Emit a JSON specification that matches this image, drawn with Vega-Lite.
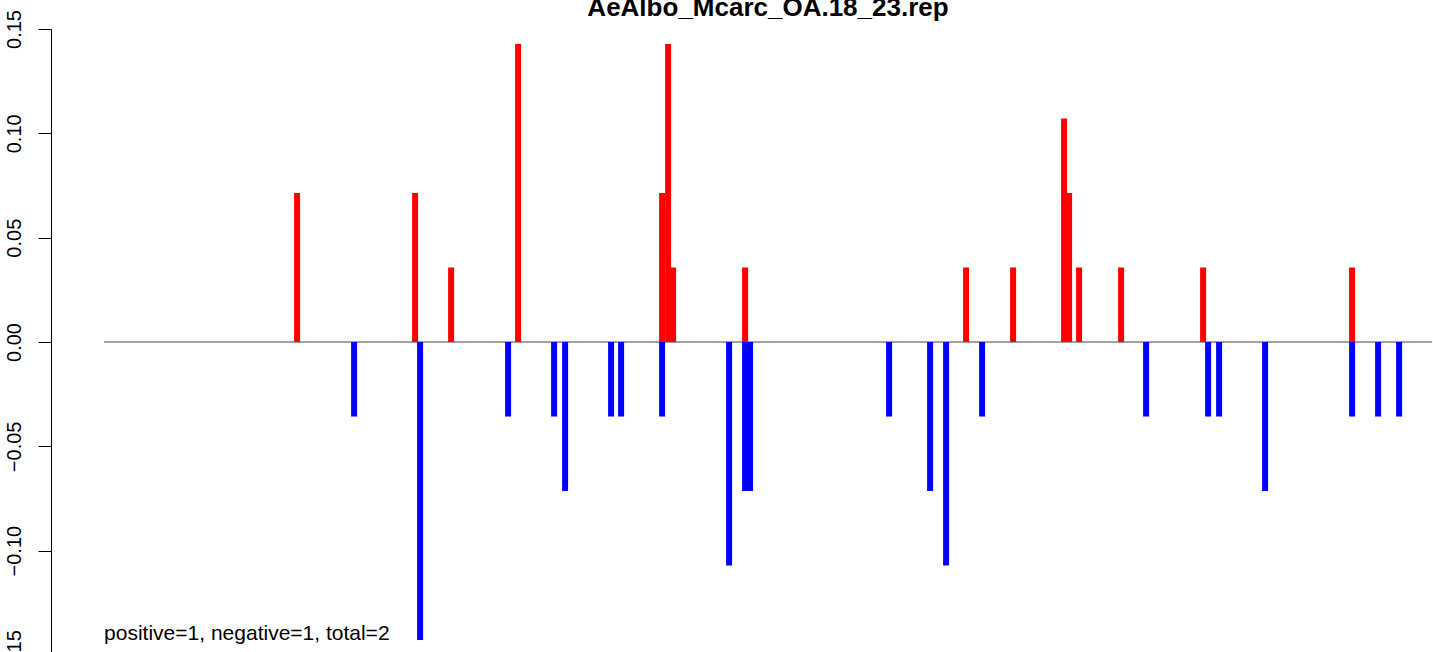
{
  "$schema": "https://vega.github.io/schema/vega-lite/v6.json",
  "width": 1382,
  "height": 626,
  "autosize": {"type": "none"},
  "padding": {"left": 51, "top": 29, "right": 0, "bottom": -3},
  "background": "white",
  "title": {
    "text": "AeAlbo_Mcarc_OA.18_23.rep",
    "font": "Liberation Sans",
    "fontSize": 26,
    "fontWeight": "bold",
    "color": "black",
    "anchor": "middle",
    "frame": "group",
    "dx": 26,
    "dy": 32,
    "baseline": "alphabetic",
    "offset": 0
  },
  "config": {"view": {"stroke": null}, "font": "Liberation Sans"},
  "datasets": {
    "bars": [
      {"pos": 193, "value": 0.071429, "sign": "positive"},
      {"pos": 311, "value": 0.071429, "sign": "positive"},
      {"pos": 347, "value": 0.035714, "sign": "positive"},
      {"pos": 414, "value": 0.142857, "sign": "positive"},
      {"pos": 558, "value": 0.071429, "sign": "positive"},
      {"pos": 564, "value": 0.142857, "sign": "positive"},
      {"pos": 569, "value": 0.035714, "sign": "positive"},
      {"pos": 641, "value": 0.035714, "sign": "positive"},
      {"pos": 862, "value": 0.035714, "sign": "positive"},
      {"pos": 909, "value": 0.035714, "sign": "positive"},
      {"pos": 960, "value": 0.107143, "sign": "positive"},
      {"pos": 965, "value": 0.071429, "sign": "positive"},
      {"pos": 975, "value": 0.035714, "sign": "positive"},
      {"pos": 1017, "value": 0.035714, "sign": "positive"},
      {"pos": 1099, "value": 0.035714, "sign": "positive"},
      {"pos": 1248, "value": 0.035714, "sign": "positive"},
      {"pos": 250, "value": -0.035714, "sign": "negative"},
      {"pos": 316, "value": -0.142857, "sign": "negative"},
      {"pos": 404, "value": -0.035714, "sign": "negative"},
      {"pos": 450, "value": -0.035714, "sign": "negative"},
      {"pos": 461, "value": -0.071429, "sign": "negative"},
      {"pos": 507, "value": -0.035714, "sign": "negative"},
      {"pos": 517, "value": -0.035714, "sign": "negative"},
      {"pos": 558, "value": -0.035714, "sign": "negative"},
      {"pos": 625, "value": -0.107143, "sign": "negative"},
      {"pos": 641, "value": -0.071429, "sign": "negative"},
      {"pos": 646, "value": -0.071429, "sign": "negative"},
      {"pos": 785, "value": -0.035714, "sign": "negative"},
      {"pos": 826, "value": -0.071429, "sign": "negative"},
      {"pos": 842, "value": -0.107143, "sign": "negative"},
      {"pos": 878, "value": -0.035714, "sign": "negative"},
      {"pos": 1042, "value": -0.035714, "sign": "negative"},
      {"pos": 1104, "value": -0.035714, "sign": "negative"},
      {"pos": 1115, "value": -0.035714, "sign": "negative"},
      {"pos": 1161, "value": -0.071429, "sign": "negative"},
      {"pos": 1248, "value": -0.035714, "sign": "negative"},
      {"pos": 1274, "value": -0.035714, "sign": "negative"},
      {"pos": 1295, "value": -0.035714, "sign": "negative"}
    ],
    "baseline": [
      {"pos": 0, "pos2": 1328, "value": 0}
    ],
    "note": [
      {"pos": 0, "value": -0.1428, "label": "positive=1, negative=1, total=2"}
    ]
  },
  "encoding": {
    "x": {
      "field": "pos",
      "type": "quantitative",
      "scale": {"domain": [-53.1, 1328.9], "nice": false, "zero": false, "padding": 0},
      "axis": null
    },
    "y": {
      "field": "value",
      "type": "quantitative",
      "scale": {"domain": [-0.15, 0.15], "nice": false, "zero": false, "padding": 0},
      "axis": {
        "values": [-0.15, -0.1, -0.05, 0, 0.05, 0.1, 0.15],
        "format": ".2f",
        "title": null,
        "grid": false,
        "labelAngle": 270,
        "labelAlign": "center",
        "labelBaseline": "alphabetic",
        "labelFont": "Liberation Sans",
        "labelFontSize": 20,
        "labelColor": "black",
        "labelPadding": 18,
        "labelOverlap": false,
        "labelFlush": false,
        "labelBound": false,
        "tickSize": 13,
        "tickColor": "black",
        "tickWidth": 1,
        "domainColor": "black",
        "domainWidth": 1
      }
    }
  },
  "layer": [
    {
      "data": {"name": "baseline"},
      "mark": {"type": "rule", "color": "#444444", "strokeWidth": 1},
      "encoding": {"x2": {"field": "pos2"}}
    },
    {
      "data": {"name": "bars"},
      "mark": {"type": "bar", "size": 6, "orient": "vertical"},
      "encoding": {
        "y": {"field": "value", "type": "quantitative", "stack": null},
        "color": {
          "field": "sign",
          "type": "nominal",
          "scale": {"domain": ["positive", "negative"], "range": ["#FF0000", "#0000FF"]},
          "legend": null
        }
      }
    },
    {
      "data": {"name": "note"},
      "mark": {"type": "text", "align": "left", "baseline": "alphabetic", "fontSize": 21, "color": "black", "font": "Liberation Sans"},
      "encoding": {"text": {"field": "label", "type": "nominal"}}
    }
  ]
}
